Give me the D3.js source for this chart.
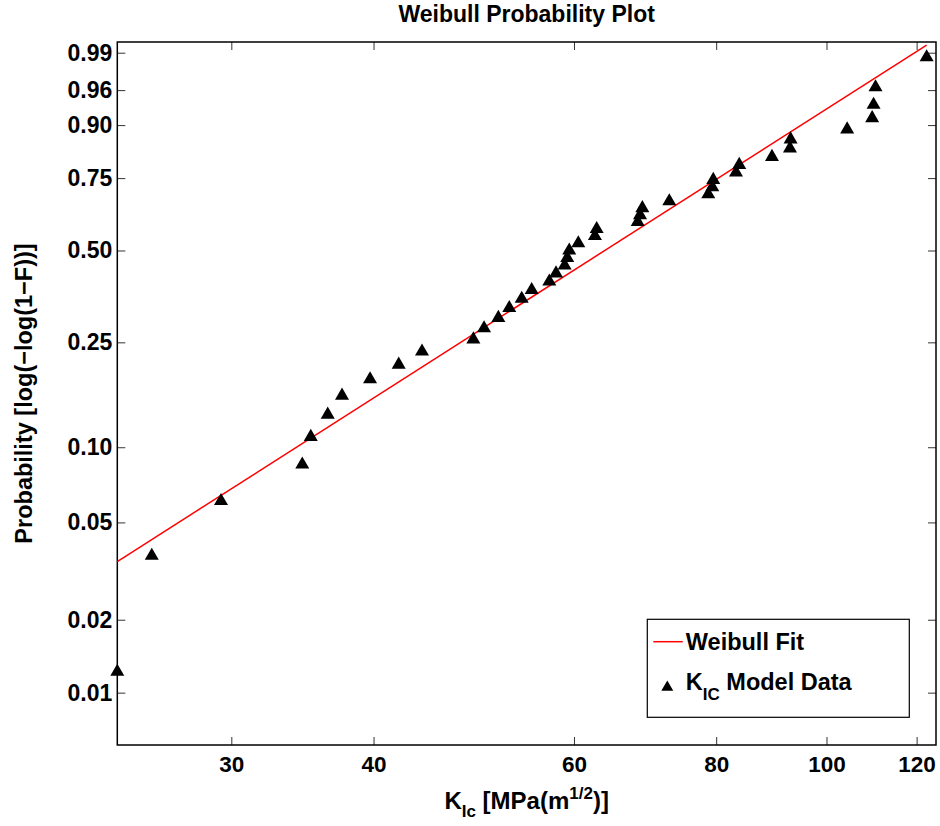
<!DOCTYPE html>
<html lang="en">
<head>
<meta charset="utf-8">
<script src="https://d3js.org/d3.v7.min.js"></script>
<style>
  body { margin: 0; background: #ffffff; }
  svg { display: block; font-family: "Liberation Sans", Arial, Helvetica, sans-serif; font-weight: bold; }
  .tick line { stroke: #333; }
</style>
</head>
<body>
<script>
// fracture toughness values (sorted)
var kValues = [23.82, 25.54, 29.38, 34.63, 35.23, 36.46, 37.53, 39.72, 42.09, 44.12,
  48.95, 50.02, 51.49, 52.64, 53.98, 55.08, 57.08, 57.86, 58.88, 59.19,
  59.43, 60.53, 62.60, 62.82, 68.26, 68.58, 68.90, 72.76, 78.73, 79.37,
  79.53, 83.27, 83.82, 89.56, 92.88, 93.00, 104.27, 109.68, 109.99, 110.43,
  122.46];
// plotting positions of each point
var probs = [0.0122, 0.0366, 0.0610, 0.0854, 0.1098, 0.1341, 0.1585, 0.1829, 0.2073, 0.2317,
  0.2561, 0.2805, 0.3049, 0.3293, 0.3537, 0.3780, 0.4024, 0.4268, 0.4512, 0.4756,
  0.5000, 0.5244, 0.5488, 0.5732, 0.5976, 0.6220, 0.6463, 0.6707, 0.6951, 0.7195,
  0.7439, 0.7683, 0.7927, 0.8171, 0.8415, 0.8659, 0.8902, 0.9146, 0.9390, 0.9634,
  0.9878];
// weibull fit (scale, shape)
var fitScale = 72.1;
var fitShape = 3.02;

var xTicks = [30, 40, 60, 80, 100, 120];
var yTicks = [0.01, 0.02, 0.05, 0.10, 0.25, 0.50, 0.75, 0.90, 0.96, 0.99];
var xLimits = [23.82, 124.8];
var yLimits = [0.00607, 0.99392];

var width = 940, height = 826;
var margin = {top: 42, right: 4, bottom: 81, left: 117.3};
var w = width - margin.left - margin.right,
    h = height - margin.top - margin.bottom;

function weib(p) { return Math.log(-Math.log(1 - p)); }

var x = d3.scaleLog().domain(xLimits).range([0, w]);
var y = d3.scaleLinear().domain(yLimits.map(weib)).range([h, 0]);

var svg = d3.select("body").append("svg")
    .attr("width", width)
    .attr("height", height);

var g = svg.append("g")
    .attr("transform", "translate(" + margin.left + "," + margin.top + ")");

var fmt = d3.format(".2f");

// axes, ticks pointing inward
g.append("g")
    .attr("transform", "translate(0," + h + ")")
    .call(d3.axisBottom(x).tickValues(xTicks).tickFormat(d3.format("d")).tickSizeInner(-8).tickSizeOuter(0).tickPadding(11))
    .call(function(a) { a.select(".domain").remove(); a.selectAll("text").attr("font-size", 22.5).attr("fill", "#000"); });
g.append("g")
    .call(d3.axisTop(x).tickValues(xTicks).tickFormat("").tickSizeInner(-8).tickSizeOuter(0))
    .call(function(a) { a.select(".domain").remove(); });
g.append("g")
    .call(d3.axisLeft(y).tickValues(yTicks.map(weib)).tickFormat(function(d, i) { return fmt(yTicks[i]); }).tickSizeInner(-8).tickSizeOuter(0).tickPadding(5))
    .call(function(a) { a.select(".domain").remove(); a.selectAll("text").attr("font-size", 23).attr("fill", "#000"); });
g.append("g")
    .attr("transform", "translate(" + w + ",0)")
    .call(d3.axisRight(y).tickValues(yTicks.map(weib)).tickFormat("").tickSizeInner(-8).tickSizeOuter(0))
    .call(function(a) { a.select(".domain").remove(); });

g.append("rect")
    .attr("width", w)
    .attr("height", h)
    .attr("fill", "none")
    .attr("stroke", "#000")
    .attr("stroke-width", 1.5);

// fit line from min to max observation
var xMin = d3.min(kValues), xMax = d3.max(kValues);
var fitPts = [xMin, xMax].map(function(k) { return [k, 1 - Math.exp(-Math.pow(k / fitScale, fitShape))]; });
g.append("path")
    .datum(fitPts)
    .attr("fill", "none")
    .attr("stroke", "#ff0000")
    .attr("stroke-width", 1.5)
    .attr("d", d3.line().x(function(d) { return x(d[0]); }).y(function(d) { return y(weib(d[1])); }));

var tri = d3.symbol().type(d3.symbolTriangle).size(85);
g.selectAll(".pt")
    .data(kValues)
    .enter().append("path")
    .attr("class", "pt")
    .attr("d", tri)
    .attr("fill", "#000")
    .attr("transform", function(d, i) { return "translate(" + x(d) + "," + y(weib(probs[i])) + ")"; });

// title and labels
svg.append("text")
    .attr("x", margin.left + w / 2)
    .attr("y", 22)
    .attr("text-anchor", "middle")
    .attr("font-size", 23)
    .text("Weibull Probability Plot");

var xl = svg.append("text")
    .attr("x", margin.left + w / 2)
    .attr("y", 809)
    .attr("text-anchor", "middle")
    .attr("font-size", 24);
xl.append("tspan").text("K");
xl.append("tspan").attr("dy", 8).attr("font-size", 17).text("Ic");
xl.append("tspan").attr("dy", -8).text(" [MPa(m");
xl.append("tspan").attr("dy", -10).attr("font-size", 17).text("1/2");
xl.append("tspan").attr("dy", 10).text(")]");

svg.append("text")
    .attr("transform", "translate(32," + (margin.top + h / 2) + ") rotate(-90)")
    .attr("text-anchor", "middle")
    .attr("font-size", 23.5)
    .text("Probability [log(\u2212log(1\u2212F))]");

// legend
var lg = svg.append("g").attr("transform", "translate(647.3,619.3)");
lg.append("rect")
    .attr("width", 262)
    .attr("height", 98)
    .attr("fill", "#fff")
    .attr("stroke", "#000")
    .attr("stroke-width", 1.2);
lg.append("line")
    .attr("x1", 6).attr("x2", 35.5)
    .attr("y1", 22.4).attr("y2", 22.4)
    .attr("stroke", "#ff0000")
    .attr("stroke-width", 1.5);
lg.append("text")
    .attr("x", 38.5).attr("y", 30.5)
    .attr("font-size", 23.5)
    .text("Weibull Fit");
lg.append("path")
    .attr("d", d3.symbol().type(d3.symbolTriangle).size(62))
    .attr("transform", "translate(20,68)");
var lt = lg.append("text")
    .attr("x", 38.5).attr("y", 70.5)
    .attr("font-size", 23.5);
lt.append("tspan").text("K");
lt.append("tspan").attr("dy", 10).attr("font-size", 17).text("IC");
lt.append("tspan").attr("dy", -10).text(" Model Data");
</script>
</body>
</html>
